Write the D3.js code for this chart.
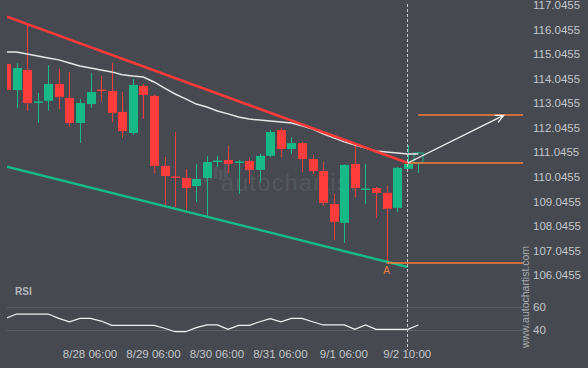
<!DOCTYPE html>
<html>
<head>
<meta charset="utf-8">
<script src="https://cdn.jsdelivr.net/npm/d3@7"></script>
<style>
  html, body { margin: 0; padding: 0; background: #46494f; }
  svg { display: block; font-family: "Liberation Sans", Arial, sans-serif; }
</style>
</head>
<body>
<div id="chart"></div>
<script>
// 4h candles, index 0..39
var opens  = [114.64,113.58,114.40,113.08,113.14,113.83,113.26,112.24,113.01,113.60,
              113.54,112.69,111.83,113.75,113.34,110.49,110.06,110.00,109.67,110.00,
              110.67,110.73,110.63,110.69,110.33,110.90,111.95,111.18,111.42,110.77,
              110.28,108.94,108.17,110.57,109.53,109.59,109.39,108.78,110.37,110.61];
var highs  = [114.70,114.68,116.27,113.46,114.60,114.44,114.32,113.22,114.28,114.15,
              114.68,113.50,114.03,113.83,113.38,110.85,111.87,110.37,110.57,110.90,
              110.90,111.30,110.73,110.81,110.98,111.95,112.04,111.67,111.47,110.94,
              110.65,109.35,110.55,111.34,110.57,109.63,109.67,110.45,111.34,111.06];
var lows   = [113.54,112.85,112.73,112.24,112.73,112.81,112.08,111.42,112.85,113.10,
              112.28,111.63,111.75,112.40,110.20,108.90,108.82,108.70,109.02,108.41,
              110.45,110.20,109.35,109.76,109.80,110.85,110.85,110.98,110.24,110.16,
              108.86,107.47,107.35,109.22,108.94,108.37,106.54,108.61,110.37,110.20];
var closes = [113.58,114.48,113.05,113.12,113.83,113.30,112.24,113.05,113.50,113.56,
              112.65,111.91,113.79,113.38,110.49,110.08,110.02,109.59,109.96,110.65,
              110.71,110.57,110.67,110.33,110.90,111.87,111.18,111.42,110.77,110.28,
              108.98,108.21,110.53,109.59,109.57,109.39,108.74,110.41,110.57,111.02];
var ma     = [115.13,115.13,115.05,114.97,114.89,114.81,114.68,114.56,114.48,114.40,
              114.32,114.20,114.15,114.11,113.91,113.66,113.42,113.22,113.01,112.89,
              112.73,112.61,112.48,112.40,112.36,112.32,112.28,112.24,112.12,111.99,
              111.80,111.63,111.47,111.34,111.22,111.10,111.06,111.02,110.98,110.98];
var rsi    = [50.1,53.7,53.7,53.7,53.7,50.1,47.2,50.1,50.1,47.8,
              44.2,44.2,44.2,44.2,44.2,41.7,38.8,38.8,42.2,44.5,
              44.5,40.8,44.2,44.2,47.2,49.8,47.2,50.1,50.1,47.2,
              44.5,44.5,44.5,40.8,44.5,40.8,40.8,40.8,40.8,44.5];

var tickIdx    = [8, 14, 20, 26, 32, 38];
var tickLabels = ["8/28 06:00", "8/29 06:00", "8/30 06:00", "8/31 06:00", "9/1 06:00", "9/2 10:00"];
var priceTicks = [117.0455,116.0455,115.0455,114.0455,113.0455,112.0455,111.0455,110.0455,109.0455,108.0455,107.0455,106.0455];
var rsiTicks   = [60, 40];

// channel lines [index, price]
var resistance = [[0.1, 116.57], [38, 110.61]];
var support    = [[0.1, 110.46], [38, 106.37]];
// levels: from index, price
var levels     = [[36, 106.54], [38, 110.61], [39, 112.55]];
var forecast   = [[38, 110.61], [47.07, 112.55]];
var pointA     = [36, 106.54];
var breakIdx   = 38;

var W = 588, H = 368;
var left = 7, right = 523;

var svg = d3.select('#chart').append('svg')
    .attr('width', W).attr('height', H);

var x = d3.scaleLinear().domain([0.1, 48.9]).range([left, right]);
var y = d3.scaleLinear().domain([117.0455, 106.0455]).range([5, 275]);
var yr = d3.scaleLinear().domain([40, 60]).range([330.3, 306.6]);

svg.append('clipPath').attr('id', 'clipMain')
    .append('rect').attr('x', left).attr('y', 0).attr('width', right - left).attr('height', 282);
svg.append('clipPath').attr('id', 'clipRsi')
    .append('rect').attr('x', left).attr('y', 282).attr('width', right - left).attr('height', 70);

// watermark
var wm = svg.append('g');
var logo = [[0, 6], [5, 9], [10, 12], [15, 10], [20, 14]];
wm.selectAll('rect').data(logo).enter().append('rect')
    .attr('x', function(d) { return 204 + d[0]; })
    .attr('y', function(d) { return 186 - d[1] * 1.6; })
    .attr('width', 3.5)
    .attr('height', function(d) { return d[1]; })
    .attr('fill', '#53565c');
wm.append('text').attr('x', 221).attr('y', 191)
    .attr('fill', '#54575d').attr('font-size', 23).attr('letter-spacing', 1.5)
    .text('autochartist');

var main = svg.append('g').attr('clip-path', 'url(#clipMain)');

var idx = d3.range(opens.length);
var green = '#17b987', red = '#ff3d3d';
var bw = 9;

// wicks
main.selectAll('line.wick').data(idx).enter().append('line')
    .attr('class', 'wick')
    .attr('x1', function(i) { return Math.round(x(i)) + 0.5; })
    .attr('x2', function(i) { return Math.round(x(i)) + 0.5; })
    .attr('y1', function(i) { return y(highs[i]); })
    .attr('y2', function(i) { return y(lows[i]); })
    .attr('stroke', function(i) { return closes[i] >= opens[i] ? green : red; })
    .attr('stroke-width', 1);

// bodies
main.selectAll('rect.body').data(idx).enter().append('rect')
    .attr('class', 'body')
    .attr('x', function(i) { return Math.round(x(i)) - 4; })
    .attr('y', function(i) { return y(Math.max(opens[i], closes[i])); })
    .attr('width', bw)
    .attr('height', function(i) { return Math.max(1.5, Math.abs(y(opens[i]) - y(closes[i]))); })
    .attr('fill', function(i) {
        if (i == opens.length - 1) return '#46494f';
        return closes[i] >= opens[i] ? green : red;
    })
    .attr('stroke', function(i) { return i == opens.length - 1 ? green : 'none'; })
    .attr('stroke-width', 1);

// moving average
var line = d3.line().x(function(d, i) { return x(i); }).y(function(d) { return y(d); });
main.append('path').datum(ma)
    .attr('d', line)
    .attr('fill', 'none').attr('stroke', '#e6e6e6').attr('stroke-width', 1.5);

// channel
var pline = d3.line().x(function(d) { return x(d[0]); }).y(function(d) { return y(d[1]); });
main.append('path').datum(resistance).attr('d', pline)
    .attr('stroke', '#ff3a3a').attr('stroke-width', 2.5).attr('fill', 'none');
main.append('path').datum(support).attr('d', pline)
    .attr('stroke', '#17b987').attr('stroke-width', 2.5).attr('fill', 'none');

// levels
main.selectAll('line.level').data(levels).enter().append('line')
    .attr('class', 'level')
    .attr('x1', function(d) { return x(d[0]); })
    .attr('x2', right)
    .attr('y1', function(d) { return Math.round(y(d[1])); })
    .attr('y2', function(d) { return Math.round(y(d[1])); })
    .attr('stroke', '#ff7b36').attr('stroke-width', 1.6);

// forecast arrow
var p0 = [x(forecast[0][0]), y(forecast[0][1])];
var p1 = [x(forecast[1][0]), y(forecast[1][1])];
var ang = Math.atan2(p1[1] - p0[1], p1[0] - p0[0]);
main.append('line')
    .attr('x1', p0[0]).attr('y1', p0[1]).attr('x2', p1[0]).attr('y2', p1[1])
    .attr('stroke', '#f2f2f2').attr('stroke-width', 1.3);
main.append('path')
    .attr('d', 'M' + (p1[0] - 9 * Math.cos(ang - 0.45)) + ',' + (p1[1] - 9 * Math.sin(ang - 0.45)) +
        'L' + p1[0] + ',' + p1[1] +
        'L' + (p1[0] - 9 * Math.cos(ang + 0.45)) + ',' + (p1[1] - 9 * Math.sin(ang + 0.45)))
    .attr('fill', 'none').attr('stroke', '#f2f2f2').attr('stroke-width', 1.3);

// point A
svg.append('text')
    .attr('x', x(pointA[0])).attr('y', y(pointA[1]) + 11)
    .attr('text-anchor', 'middle').attr('fill', '#f0803f').attr('font-size', 10)
    .text('A');

// RSI panel
svg.append('text').attr('x', 15).attr('y', 295)
    .attr('fill', '#b4b7bb').attr('font-size', 10).attr('font-weight', 'bold')
    .text('RSI');
svg.selectAll('line.rgrid').data(rsiTicks).enter().append('line')
    .attr('class', 'rgrid')
    .attr('x1', left).attr('x2', right)
    .attr('y1', function(d) { return Math.round(yr(d)) + 0.5; })
    .attr('y2', function(d) { return Math.round(yr(d)) + 0.5; })
    .attr('stroke', '#5c5f65').attr('stroke-width', 1);
svg.append('g').attr('clip-path', 'url(#clipRsi)')
    .append('path').datum(rsi)
    .attr('d', d3.line().x(function(d, i) { return x(i); }).y(function(d) { return yr(d); }))
    .attr('fill', 'none').attr('stroke', '#f2f2f2').attr('stroke-width', 1.2);

// vertical dashed line at breakout
svg.append('line')
    .attr('x1', Math.round(x(breakIdx)) - 0.5).attr('x2', Math.round(x(breakIdx)) - 0.5)
    .attr('y1', 4).attr('y2', 350)
    .attr('stroke', '#c8cacd').attr('stroke-width', 1).attr('stroke-dasharray', '3,2');

// price axis
var yAxis = d3.axisRight(y).tickValues(priceTicks).tickFormat(d3.format('.4f')).tickSize(0).tickPadding(0);
var ga = svg.append('g').attr('transform', 'translate(533,0)').call(yAxis);
ga.select('.domain').remove();
ga.selectAll('text').attr('fill', '#c3c6ca').attr('font-size', 11.5).attr('font-family', '"Liberation Sans", Arial, sans-serif');

var rAxis = d3.axisRight(yr).tickValues(rsiTicks).tickSize(0).tickPadding(0);
var gr = svg.append('g').attr('transform', 'translate(533,0)').call(rAxis);
gr.select('.domain').remove();
gr.selectAll('text').attr('fill', '#c3c6ca').attr('font-size', 11.5).attr('font-family', '"Liberation Sans", Arial, sans-serif');

// time axis
var xAxis = d3.axisBottom(x).tickValues(tickIdx)
    .tickFormat(function(d, i) { return tickLabels[i]; }).tickSize(0).tickPadding(0);
var gx = svg.append('g').attr('transform', 'translate(-1,350)').call(xAxis);
gx.select('.domain').remove();
gx.selectAll('text').attr('fill', '#c3c6ca').attr('font-size', 11.5).attr('font-family', '"Liberation Sans", Arial, sans-serif');

// site credit
svg.append('text')
    .attr('transform', 'translate(529,348) rotate(-90)')
    .attr('fill', '#a9acb0').attr('font-size', 10.5)
    .text('www.autochartist.com');
</script>
</body>
</html>
